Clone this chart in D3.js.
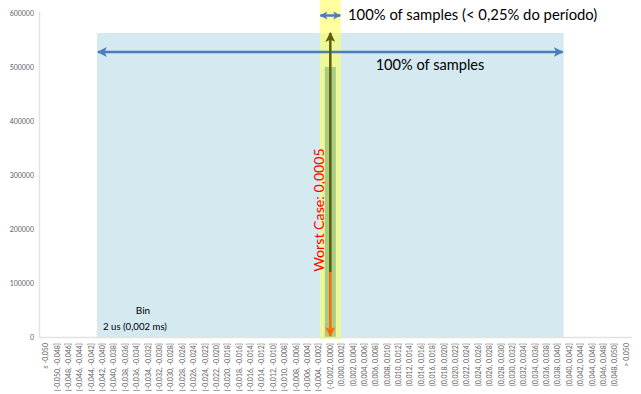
<!DOCTYPE html>
<html>
<head>
<meta charset="utf-8">
<script src="https://cdn.jsdelivr.net/npm/d3@7"></script>
<style>
  html, body { margin: 0; padding: 0; background: #fff; }
  svg { display: block; }
</style>
</head>
<body>
<svg id="chart" width="641" height="394"></svg>
<script>
const categories = [
  "≤ -0,050",
  "(-0,050, -0,048]", "(-0,048, -0,046]", "(-0,046, -0,044]", "(-0,044, -0,042]", "(-0,042, -0,040]",
  "(-0,040, -0,038]", "(-0,038, -0,036]", "(-0,036, -0,034]", "(-0,034, -0,032]", "(-0,032, -0,030]",
  "(-0,030, -0,028]", "(-0,028, -0,026]", "(-0,026, -0,024]", "(-0,024, -0,022]", "(-0,022, -0,020]",
  "(-0,020, -0,018]", "(-0,018, -0,016]", "(-0,016, -0,014]", "(-0,014, -0,012]", "(-0,012, -0,010]",
  "(-0,010, -0,008]", "(-0,008, -0,006]", "(-0,006, -0,004]", "(-0,004, -0,002]", "(-0,002, 0,000]",
  "(0,000, 0,002]", "(0,002, 0,004]", "(0,004, 0,006]", "(0,006, 0,008]", "(0,008, 0,010]",
  "(0,010, 0,012]", "(0,012, 0,014]", "(0,014, 0,016]", "(0,016, 0,018]", "(0,018, 0,020]",
  "(0,020, 0,022]", "(0,022, 0,024]", "(0,024, 0,026]", "(0,026, 0,028]", "(0,028, 0,030]",
  "(0,030, 0,032]", "(0,032, 0,034]", "(0,034, 0,036]", "(0,036, 0,038]", "(0,038, 0,040]",
  "(0,040, 0,042]", "(0,042, 0,044]", "(0,044, 0,046]", "(0,046, 0,048]", "(0,048, 0,050]",
  "> 0,050"
];
const counts = [
  0,
  0, 0, 0, 0, 0,
  0, 0, 0, 0, 0,
  0, 0, 0, 0, 0,
  0, 0, 0, 0, 0,
  0, 0, 0, 0, 500000,
  0, 0, 0, 0, 0,
  0, 0, 0, 0, 0,
  0, 0, 0, 0, 0,
  0, 0, 0, 0, 0,
  0, 0, 0, 0, 0,
  0
];
const yTicks = [0, 100000, 200000, 300000, 400000, 500000, 600000];
const annotAllSamples = "100% of samples";
const annotPeak = "100% of samples (< 0,25% do período)";
const annotWorst = "Worst Case: 0,0005";
const annotBin1 = "Bin";
const annotBin2 = "2 us (0,002 ms)";
// range of bins covered by "100% of samples" span
const spanFrom = "(-0,042, -0,040]";
const spanTo = "(0,038, 0,040]";
const peakBin = "(-0,002, 0,000]";

const svg = d3.select("#chart");
const FONT = "Lato, 'Liberation Sans', sans-serif";

const x = d3.scaleBand().domain(categories).range([40, 632]).paddingInner(0.03).paddingOuter(0.015);
const y = d3.scaleLinear().domain([0, 600000]).range([337, 13]);

const bx = d => x(d) - x.step() * x.paddingInner() / 2;

// light blue span box
const blueLeft = bx(spanFrom);
const blueRight = bx(spanTo) + x.step();
svg.append("rect")
  .attr("x", blueLeft).attr("y", 33)
  .attr("width", blueRight - blueLeft).attr("height", y(0) - 33)
  .attr("fill", "#d5e9f1");

// yellow highlight
const px = x(peakBin) + x.bandwidth() / 2;
svg.append("rect")
  .attr("x", px - 10.5).attr("y", 0)
  .attr("width", 21).attr("height", 339)
  .attr("fill", "#ffff66").attr("opacity", 0.62);

// bars
svg.append("g").selectAll("rect").data(categories).join("rect")
  .attr("x", d => x(d))
  .attr("y", (d, i) => y(counts[i]))
  .attr("width", x.bandwidth())
  .attr("height", (d, i) => y(0) - y(counts[i]))
  .attr("fill", "#a9cb88");

// axes
svg.append("line").attr("x1", 39.5).attr("x2", 39.5).attr("y1", 12).attr("y2", 337.5)
  .attr("stroke", "#e3e3e3").attr("stroke-width", 1.5);
svg.append("line").attr("x1", 39).attr("x2", 632).attr("y1", 337.5).attr("y2", 337.5)
  .attr("stroke", "#e3e3e3").attr("stroke-width", 1.5);

const yAxis = d3.axisLeft(y).tickValues(yTicks).tickFormat(d3.format("d")).tickSize(0).tickPadding(0);
const gy = svg.append("g").attr("transform", "translate(34,0)").call(yAxis);
gy.select(".domain").remove();
gy.selectAll("text").attr("font-family", FONT).attr("font-size", 7).attr("fill", "#5f5f5f");

const xAxis = d3.axisBottom(x).tickSize(0).tickPadding(0);
const gx = svg.append("g").attr("transform", "translate(0,343)").call(xAxis);
gx.select(".domain").remove();
gx.selectAll("text")
  .attr("font-family", FONT).attr("font-size", 7).attr("fill", "#5f5f5f")
  .attr("transform", "rotate(-90)")
  .attr("text-anchor", "end").attr("x", 0).attr("y", 0).attr("dy", "0.35em");

// markers
const defs = svg.append("defs");
function marker(id, color, w, h) {
  defs.append("marker").attr("id", id)
    .attr("viewBox", "0 0 10 10").attr("refX", 9).attr("refY", 5)
    .attr("markerUnits", "userSpaceOnUse")
    .attr("markerWidth", w).attr("markerHeight", h)
    .attr("orient", "auto-start-reverse")
    .append("path").attr("d", "M0,0 L10,5 L0,10 L2.5,5 Z").attr("fill", color);
}
marker("arBlue", "#4a7ebb", 10, 10);
marker("arBlueS", "#4a7ebb", 8, 8);
marker("arOlive", "#5e5e00", 10, 10);
marker("arOrange", "#ff6a00", 10, 10);

// big blue double arrow
svg.append("line")
  .attr("x1", blueLeft + 1).attr("x2", blueRight - 1).attr("y1", 52).attr("y2", 52)
  .attr("stroke", "#4a7ebb").attr("stroke-width", 2.5)
  .attr("marker-start", "url(#arBlue)").attr("marker-end", "url(#arBlue)");

// small blue double arrow
svg.append("line")
  .attr("x1", px - 10).attr("x2", px + 10).attr("y1", 15.5).attr("y2", 15.5)
  .attr("stroke", "#4a7ebb").attr("stroke-width", 2.5)
  .attr("marker-start", "url(#arBlueS)").attr("marker-end", "url(#arBlueS)");

// olive up arrow
svg.append("line")
  .attr("x1", px).attr("x2", px).attr("y1", 272).attr("y2", 33)
  .attr("stroke", "#5e5e00").attr("stroke-width", 2.5)
  .attr("marker-end", "url(#arOlive)");
// orange down arrow
svg.append("line")
  .attr("x1", px).attr("x2", px).attr("y1", 272).attr("y2", 336)
  .attr("stroke", "#ff6a00").attr("stroke-width", 2.5)
  .attr("marker-end", "url(#arOrange)");

// texts
svg.append("text").attr("x", 348).attr("y", 20)
  .attr("font-family", FONT).attr("font-size", 14.8).attr("fill", "#000")
  .text(annotPeak);
svg.append("text").attr("x", 430).attr("y", 70).attr("text-anchor", "middle")
  .attr("font-family", FONT).attr("font-size", 14.6).attr("fill", "#000")
  .text(annotAllSamples);
svg.append("text").attr("x", 143).attr("y", 314).attr("text-anchor", "middle")
  .attr("font-family", FONT).attr("font-size", 10).attr("fill", "#000")
  .text(annotBin1);
svg.append("text").attr("x", 135).attr("y", 330).attr("text-anchor", "middle")
  .attr("font-family", FONT).attr("font-size", 9.6).attr("fill", "#000")
  .text(annotBin2);
svg.append("text")
  .attr("transform", `translate(${px - 6},210) rotate(-90)`)
  .attr("text-anchor", "middle")
  .attr("font-family", FONT).attr("font-size", 14.2).attr("fill", "#ff0000")
  .text(annotWorst);
</script>
</body>
</html>
